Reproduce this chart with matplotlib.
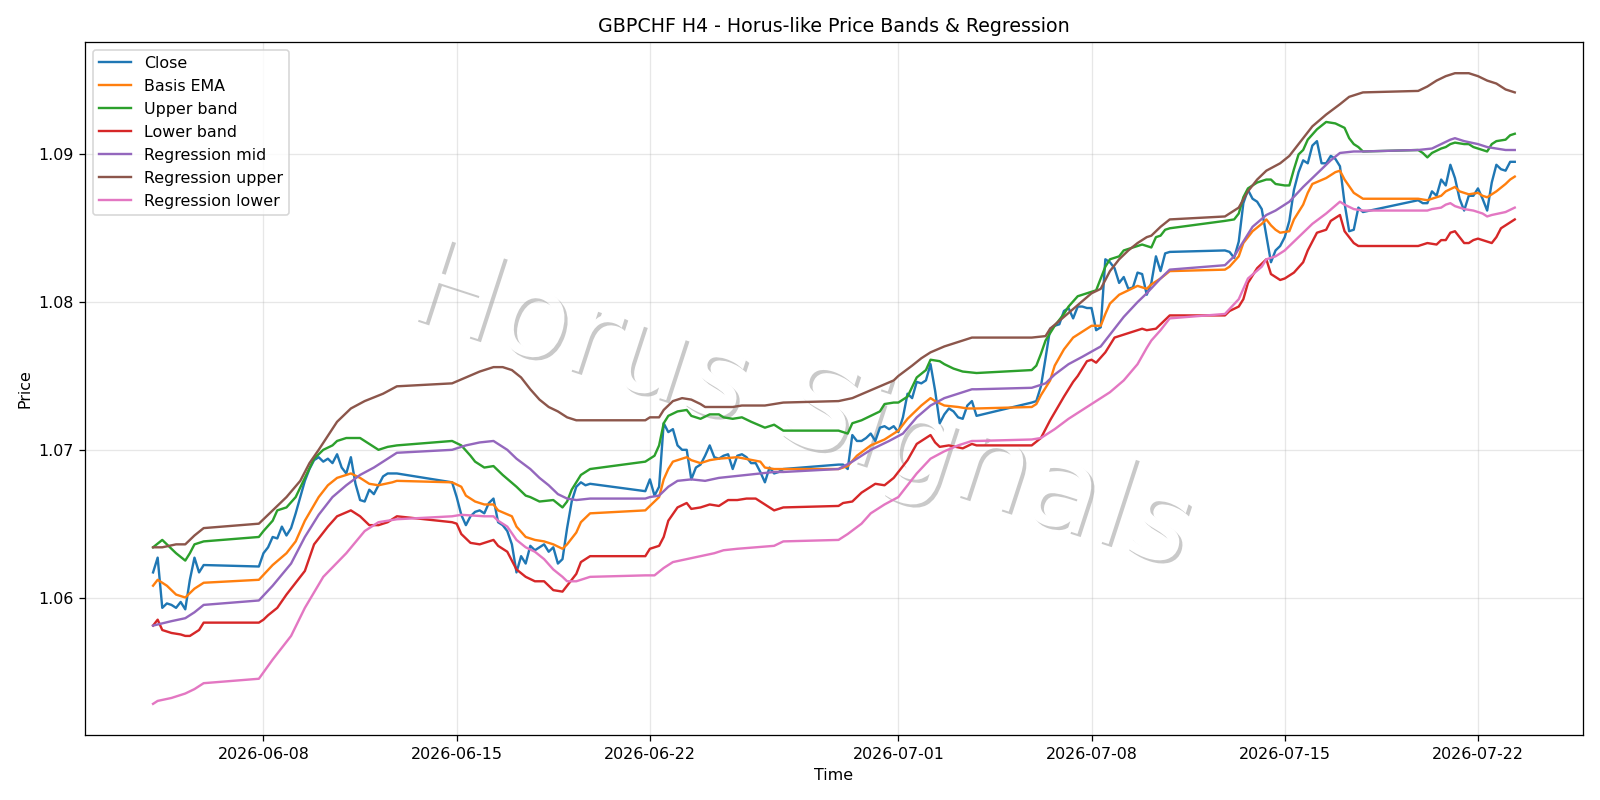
import pandas as pd
import matplotlib.pyplot as plt
import matplotlib.patheffects as pe

# H4 bars; weekends are skipped (Fri 20:00 -> Sun 20:00)
close_t = [
    "06-04 00", "06-04 04", "06-04 08", "06-04 12", "06-04 16", "06-04 20",
    "06-05 00", "06-05 04", "06-05 08", "06-05 12", "06-05 16", "06-05 20",
    "06-07 20", "06-08 00", "06-08 04", "06-08 08", "06-08 12", "06-08 16", "06-08 20",
    "06-09 00", "06-09 04", "06-09 08", "06-09 12", "06-09 16", "06-09 20",
    "06-10 00", "06-10 04", "06-10 08", "06-10 12", "06-10 16", "06-10 20",
    "06-11 00", "06-11 04", "06-11 08", "06-11 12", "06-11 16", "06-11 20",
    "06-12 00", "06-12 04", "06-12 08", "06-12 12", "06-12 16", "06-12 20",
    "06-14 20", "06-15 00", "06-15 04", "06-15 08", "06-15 12", "06-15 16", "06-15 20",
    "06-16 00", "06-16 04", "06-16 08", "06-16 12", "06-16 16", "06-16 20",
    "06-17 00", "06-17 04", "06-17 08", "06-17 12", "06-17 16", "06-17 20",
    "06-18 00", "06-18 04", "06-18 08", "06-18 12", "06-18 16", "06-18 20",
    "06-19 00", "06-19 04", "06-19 08", "06-19 12", "06-19 16", "06-19 20",
    "06-21 20", "06-22 00", "06-22 04", "06-22 08", "06-22 12", "06-22 16", "06-22 20",
    "06-23 00", "06-23 04", "06-23 08", "06-23 12", "06-23 16", "06-23 20",
    "06-24 00", "06-24 04", "06-24 08", "06-24 12", "06-24 16", "06-24 20",
    "06-25 00", "06-25 04", "06-25 08", "06-25 12", "06-25 16", "06-25 20",
    "06-26 00", "06-26 04", "06-26 08", "06-26 12", "06-26 16", "06-26 20",
    "06-28 20", "06-29 00", "06-29 04", "06-29 08", "06-29 12", "06-29 16", "06-29 20",
    "06-30 00", "06-30 04", "06-30 08", "06-30 12", "06-30 16", "06-30 20",
    "07-01 00", "07-01 04", "07-01 08", "07-01 12", "07-01 16", "07-01 20",
    "07-02 00", "07-02 04", "07-02 08", "07-02 12", "07-02 16", "07-02 20",
    "07-03 00", "07-03 04", "07-03 08", "07-03 12", "07-03 16", "07-03 20",
    "07-05 20", "07-06 00", "07-06 04", "07-06 08", "07-06 12", "07-06 16", "07-06 20",
    "07-07 00", "07-07 04", "07-07 08", "07-07 12", "07-07 16", "07-07 20",
    "07-08 00", "07-08 04", "07-08 08", "07-08 12", "07-08 16", "07-08 20",
    "07-09 00", "07-09 04", "07-09 08", "07-09 12", "07-09 16", "07-09 20",
    "07-10 00", "07-10 04", "07-10 08", "07-10 12", "07-10 16", "07-10 20",
    "07-12 20", "07-13 00", "07-13 04", "07-13 08", "07-13 12", "07-13 16", "07-13 20",
    "07-14 00", "07-14 04", "07-14 08", "07-14 12", "07-14 16", "07-14 20",
    "07-15 00", "07-15 04", "07-15 08", "07-15 12", "07-15 16", "07-15 20",
    "07-16 00", "07-16 04", "07-16 08", "07-16 12", "07-16 16", "07-16 20",
    "07-17 00", "07-17 04", "07-17 08", "07-17 12", "07-17 16", "07-17 20",
    "07-19 20", "07-20 00", "07-20 04", "07-20 08", "07-20 12", "07-20 16", "07-20 20",
    "07-21 00", "07-21 04", "07-21 08", "07-21 12", "07-21 16", "07-21 20",
    "07-22 00", "07-22 04", "07-22 08", "07-22 12", "07-22 16", "07-22 20",
    "07-23 00", "07-23 04", "07-23 08",
]
close_v = [
    1.0617, 1.0627, 1.0593, 1.0596, 1.0595, 1.0593,
    1.0597, 1.0592, 1.0612, 1.0627, 1.0617, 1.0622,
    1.0621, 1.0630, 1.0634, 1.0641, 1.0640, 1.0648, 1.0642,
    1.0647, 1.0657, 1.0668, 1.0679, 1.0687, 1.0693,
    1.0695, 1.0692, 1.0694, 1.0691, 1.0697, 1.0688,
    1.0684, 1.0695, 1.0677, 1.0666, 1.0665, 1.0673,
    1.0670, 1.0676, 1.0682, 1.0684, 1.0684, 1.0684,
    1.0678, 1.0668, 1.0656, 1.0649, 1.0655, 1.0658, 1.0659,
    1.0657, 1.0664, 1.0667, 1.0651, 1.0649, 1.0645,
    1.0636, 1.0617, 1.0628, 1.0623, 1.0635, 1.0632,
    1.0634, 1.0636, 1.0631, 1.0634, 1.0623, 1.0626,
    1.0647, 1.0665, 1.0675, 1.0678, 1.0676, 1.0677,
    1.0672, 1.0680, 1.0669, 1.0675, 1.0718, 1.0712, 1.0714,
    1.0703, 1.0700, 1.0700, 1.0680, 1.0688, 1.0690,
    1.0696, 1.0703, 1.0695, 1.0694, 1.0696, 1.0697,
    1.0687, 1.0696, 1.0697, 1.0695, 1.0691, 1.0691,
    1.0685, 1.0678, 1.0688, 1.0684, 1.0685, 1.0687,
    1.0690, 1.0690, 1.0687, 1.0710, 1.0706, 1.0706, 1.0708,
    1.0711, 1.0706, 1.0715, 1.0716, 1.0714, 1.0716,
    1.0712, 1.0722, 1.0738, 1.0735, 1.0746, 1.0745,
    1.0747, 1.0758, 1.0740, 1.0718, 1.0724, 1.0728,
    1.0726, 1.0722, 1.0721, 1.0730, 1.0733, 1.0723,
    1.0732, 1.0733, 1.0743, 1.0762, 1.0782, 1.0784, 1.0785,
    1.0794, 1.0796, 1.0789, 1.0797, 1.0797, 1.0796,
    1.0796, 1.0781, 1.0783, 1.0829, 1.0827, 1.0823,
    1.0813, 1.0817, 1.0809, 1.0810, 1.0820, 1.0819,
    1.0805, 1.0813, 1.0831, 1.0821, 1.0833, 1.0834,
    1.0835, 1.0834, 1.0830, 1.0841, 1.0867, 1.0876, 1.0870,
    1.0868, 1.0863, 1.0845, 1.0827, 1.0835, 1.0838,
    1.0844, 1.0855, 1.0876, 1.0888, 1.0896, 1.0894,
    1.0906, 1.0909, 1.0894, 1.0894, 1.0899, 1.0897,
    1.0892, 1.0867, 1.0848, 1.0849, 1.0864, 1.0861,
    1.0869, 1.0867, 1.0867, 1.0875, 1.0872, 1.0883, 1.0879,
    1.0893, 1.0884, 1.0870, 1.0862, 1.0872, 1.0872,
    1.0877, 1.0870, 1.0862, 1.0881, 1.0893, 1.0890,
    1.0889, 1.0895, 1.0895,
]

ema_t = [
    "06-04 00", "06-04 04", "06-04 12", "06-04 20", "06-05 04", "06-05 12", "06-05 20",
    "06-07 20", "06-08 08", "06-08 20", "06-09 04", "06-09 12", "06-10 00", "06-10 08",
    "06-10 16", "06-11 04", "06-11 12", "06-11 20", "06-12 04", "06-12 16", "06-12 20",
    "06-14 20", "06-15 04", "06-15 08", "06-15 16", "06-16 00", "06-16 08", "06-16 12",
    "06-17 00", "06-17 04", "06-17 12", "06-17 20", "06-18 04", "06-18 12", "06-18 20",
    "06-19 00", "06-19 08", "06-19 12", "06-19 20",
    "06-21 20", "06-22 00", "06-22 04", "06-22 08", "06-22 12", "06-22 16", "06-22 20",
    "06-23 08", "06-23 12", "06-23 20", "06-24 04", "06-24 12", "06-25 04", "06-26 00",
    "06-26 04", "06-26 12", "06-26 20",
    "06-28 20", "06-29 04", "06-29 12", "06-30 00", "06-30 12", "07-01 00", "07-01 08",
    "07-01 20", "07-02 04", "07-02 08", "07-02 16", "07-03 04", "07-03 12", "07-03 20",
    "07-05 20", "07-06 00", "07-06 04", "07-06 12", "07-06 16", "07-07 00", "07-07 08",
    "07-07 16", "07-08 00", "07-08 08", "07-08 12", "07-08 16", "07-09 00", "07-09 08",
    "07-09 16", "07-09 20", "07-10 00", "07-10 04", "07-10 12", "07-10 20",
    "07-12 20", "07-13 00", "07-13 08", "07-13 12", "07-13 20", "07-14 04", "07-14 08",
    "07-14 12", "07-14 16", "07-14 20", "07-15 04", "07-15 08", "07-15 16", "07-15 20",
    "07-16 00", "07-16 12", "07-16 20", "07-17 00", "07-17 04", "07-17 12", "07-17 20",
    "07-19 20", "07-20 04", "07-20 08", "07-20 16", "07-20 20", "07-21 04", "07-21 08",
    "07-21 16", "07-22 00", "07-22 04", "07-22 08", "07-22 16", "07-23 00", "07-23 04",
    "07-23 08",
]
ema_v = [
    1.0608, 1.0612, 1.0608, 1.0602, 1.0600, 1.0606, 1.0610,
    1.0612, 1.0622, 1.0630, 1.0638, 1.0652, 1.0668, 1.0676,
    1.0681, 1.0684, 1.0681, 1.0677, 1.0676, 1.0678, 1.0679,
    1.0678, 1.0675, 1.0669, 1.0665, 1.0663, 1.0663, 1.0659,
    1.0655, 1.0648, 1.0641, 1.0639, 1.0638, 1.0636, 1.0633,
    1.0636, 1.0644, 1.0651, 1.0657,
    1.0659, 1.0662, 1.0665, 1.0668, 1.0680, 1.0687, 1.0692,
    1.0695, 1.0693, 1.0691, 1.0693, 1.0694, 1.0695, 1.0692,
    1.0688, 1.0687, 1.0687,
    1.0687, 1.0689, 1.0696, 1.0703, 1.0707, 1.0713, 1.0721,
    1.0730, 1.0735, 1.0733, 1.0730, 1.0729, 1.0728, 1.0728,
    1.0729, 1.0731, 1.0737, 1.0747, 1.0757, 1.0768, 1.0776,
    1.0780, 1.0784, 1.0784, 1.0792, 1.0799, 1.0805, 1.0808,
    1.0811, 1.0810, 1.0809, 1.0812, 1.0816, 1.0821,
    1.0822, 1.0824, 1.0831, 1.0840, 1.0848, 1.0853, 1.0856,
    1.0852, 1.0849, 1.0847, 1.0848, 1.0856, 1.0866, 1.0874,
    1.0880, 1.0884, 1.0888, 1.0889, 1.0883, 1.0874, 1.0870,
    1.0870, 1.0869, 1.0870, 1.0872, 1.0875, 1.0878, 1.0875,
    1.0873, 1.0874, 1.0872, 1.0871, 1.0875, 1.0880, 1.0883,
    1.0885,
]

upper_t = [
    "06-04 00", "06-04 08", "06-04 12", "06-04 20", "06-05 04", "06-05 08", "06-05 12",
    "06-05 20", "06-07 20", "06-08 00", "06-08 08", "06-08 12", "06-08 20", "06-09 04",
    "06-09 12", "06-09 20", "06-10 04", "06-10 12", "06-10 16", "06-11 00", "06-11 12",
    "06-11 20", "06-12 04", "06-12 12", "06-12 20",
    "06-14 20", "06-15 04", "06-15 12", "06-15 16", "06-16 00", "06-16 08", "06-16 16",
    "06-17 04", "06-17 12", "06-17 16", "06-18 00", "06-18 12", "06-18 20", "06-19 00",
    "06-19 04", "06-19 12", "06-19 20",
    "06-21 20", "06-22 00", "06-22 04", "06-22 08", "06-22 12", "06-22 16", "06-23 00",
    "06-23 08", "06-23 12", "06-23 20", "06-24 04", "06-24 12", "06-24 16", "06-25 00",
    "06-25 08", "06-25 16", "06-26 04", "06-26 12", "06-26 20",
    "06-28 20", "06-29 04", "06-29 08", "06-29 16", "06-30 00", "06-30 08", "06-30 12",
    "06-30 20", "07-01 00", "07-01 08", "07-01 16", "07-02 00", "07-02 04", "07-02 12",
    "07-02 16", "07-03 00", "07-03 08", "07-03 20",
    "07-05 20", "07-06 00", "07-06 04", "07-06 08", "07-06 16", "07-07 00", "07-07 04",
    "07-07 12", "07-07 20", "07-08 04", "07-08 12", "07-08 16", "07-09 00", "07-09 04",
    "07-09 12", "07-09 20", "07-10 00", "07-10 04", "07-10 08", "07-10 12", "07-10 16",
    "07-10 20",
    "07-12 20", "07-13 04", "07-13 08", "07-13 12", "07-13 16", "07-14 00", "07-14 08",
    "07-14 12", "07-14 16", "07-15 00", "07-15 04", "07-15 08", "07-15 12", "07-15 16",
    "07-15 20", "07-16 04", "07-16 12", "07-16 20", "07-17 04", "07-17 08", "07-17 12",
    "07-17 16", "07-17 20",
    "07-19 20", "07-20 00", "07-20 04", "07-20 08", "07-20 16", "07-20 20", "07-21 00",
    "07-21 04", "07-21 12", "07-21 16", "07-21 20", "07-22 00", "07-22 08", "07-22 12",
    "07-22 16", "07-23 00", "07-23 04", "07-23 08",
]
upper_v = [
    1.0634, 1.0639, 1.0636, 1.0630, 1.0625, 1.0630, 1.0636,
    1.0638, 1.0641, 1.0645, 1.0652, 1.0659, 1.0661, 1.0668,
    1.0681, 1.0694, 1.0700, 1.0703, 1.0706, 1.0708, 1.0708,
    1.0704, 1.0700, 1.0702, 1.0703,
    1.0706, 1.0703, 1.0696, 1.0692, 1.0688, 1.0689, 1.0683,
    1.0675, 1.0669, 1.0668, 1.0665, 1.0666, 1.0661, 1.0665,
    1.0673, 1.0683, 1.0687,
    1.0692, 1.0694, 1.0696, 1.0703, 1.0718, 1.0723, 1.0726,
    1.0727, 1.0723, 1.0721, 1.0724, 1.0724, 1.0722, 1.0721,
    1.0722, 1.0719, 1.0715, 1.0717, 1.0713,
    1.0713, 1.0711, 1.0718, 1.0720, 1.0723, 1.0726, 1.0731,
    1.0732, 1.0732, 1.0736, 1.0749, 1.0754, 1.0761, 1.0760,
    1.0758, 1.0755, 1.0753, 1.0752,
    1.0754, 1.0757, 1.0765, 1.0774, 1.0784, 1.0792, 1.0797,
    1.0804, 1.0806, 1.0808, 1.0824, 1.0829, 1.0831, 1.0835,
    1.0837, 1.0839, 1.0838, 1.0837, 1.0844, 1.0845, 1.0849,
    1.0850,
    1.0855, 1.0856, 1.0860, 1.0871, 1.0877, 1.0881, 1.0883,
    1.0883, 1.0880, 1.0879, 1.0879, 1.0890, 1.0900, 1.0903,
    1.0910, 1.0917, 1.0922, 1.0921, 1.0918, 1.0911, 1.0907,
    1.0905, 1.0902,
    1.0903, 1.0901, 1.0898, 1.0901, 1.0904, 1.0905, 1.0907,
    1.0908, 1.0907, 1.0907, 1.0905, 1.0904, 1.0902, 1.0907,
    1.0909, 1.0910, 1.0913, 1.0914,
]

lower_t = [
    "06-04 00", "06-04 04", "06-04 08", "06-04 16", "06-05 00", "06-05 04", "06-05 08",
    "06-05 16", "06-05 20", "06-07 20", "06-08 00", "06-08 04", "06-08 12", "06-08 20",
    "06-09 04", "06-09 12", "06-09 20", "06-10 08", "06-10 16", "06-11 04", "06-11 12",
    "06-11 20", "06-12 04", "06-12 12", "06-12 20",
    "06-14 20", "06-15 00", "06-15 04", "06-15 12", "06-15 20", "06-16 08", "06-16 12",
    "06-16 16", "06-16 20", "06-17 04", "06-17 12", "06-17 20", "06-18 04", "06-18 08",
    "06-18 12", "06-18 20", "06-19 00", "06-19 08", "06-19 12", "06-19 20",
    "06-21 20", "06-22 00", "06-22 08", "06-22 12", "06-22 16", "06-23 00", "06-23 08",
    "06-23 12", "06-23 20", "06-24 04", "06-24 12", "06-24 20", "06-25 04", "06-25 12",
    "06-25 20", "06-26 04", "06-26 12", "06-26 20",
    "06-28 20", "06-29 00", "06-29 08", "06-29 16", "06-30 04", "06-30 12", "06-30 20",
    "07-01 00", "07-01 08", "07-01 16", "07-02 04", "07-02 08", "07-02 12", "07-02 20",
    "07-03 08", "07-03 16", "07-03 20",
    "07-05 20", "07-06 04", "07-06 12", "07-07 00", "07-07 08", "07-07 12", "07-07 20",
    "07-08 00", "07-08 04", "07-08 12", "07-08 20", "07-09 04", "07-09 12", "07-09 20",
    "07-10 00", "07-10 08", "07-10 12", "07-10 20",
    "07-12 20", "07-13 00", "07-13 08", "07-13 12", "07-13 16", "07-14 00", "07-14 08",
    "07-14 12", "07-14 20", "07-15 00", "07-15 08", "07-15 16", "07-15 20", "07-16 04",
    "07-16 12", "07-16 16", "07-17 00", "07-17 04", "07-17 12", "07-17 16", "07-17 20",
    "07-19 20", "07-20 00", "07-20 04", "07-20 12", "07-20 16", "07-20 20", "07-21 00",
    "07-21 04", "07-21 08", "07-21 12", "07-21 16", "07-21 20", "07-22 00", "07-22 04",
    "07-22 12", "07-22 16", "07-22 20", "07-23 00", "07-23 08",
]
lower_v = [
    1.0581, 1.0585, 1.0578, 1.0576, 1.0575, 1.0574, 1.0574,
    1.0578, 1.0583, 1.0583, 1.0585, 1.0588, 1.0593, 1.0602,
    1.0610, 1.0618, 1.0636, 1.0648, 1.0655, 1.0659, 1.0655,
    1.0649, 1.0649, 1.0651, 1.0655,
    1.0651, 1.0650, 1.0643, 1.0637, 1.0636, 1.0639, 1.0635,
    1.0633, 1.0631, 1.0619, 1.0614, 1.0611, 1.0611, 1.0608,
    1.0605, 1.0604, 1.0608, 1.0616, 1.0624, 1.0628,
    1.0628, 1.0633, 1.0635, 1.0641, 1.0652, 1.0661, 1.0664,
    1.0660, 1.0661, 1.0663, 1.0662, 1.0666, 1.0666, 1.0667,
    1.0667, 1.0663, 1.0659, 1.0661,
    1.0662, 1.0664, 1.0665, 1.0671, 1.0677, 1.0676, 1.0681,
    1.0685, 1.0693, 1.0704, 1.0710, 1.0705, 1.0702, 1.0703,
    1.0701, 1.0704, 1.0703,
    1.0703, 1.0708, 1.0720, 1.0736, 1.0746, 1.0750, 1.0760,
    1.0761, 1.0759, 1.0766, 1.0776, 1.0778, 1.0780, 1.0782,
    1.0781, 1.0782, 1.0785, 1.0791,
    1.0791, 1.0794, 1.0797, 1.0802, 1.0813, 1.0823, 1.0829,
    1.0819, 1.0815, 1.0816, 1.0820, 1.0827, 1.0835, 1.0847,
    1.0849, 1.0855, 1.0859, 1.0848, 1.0840, 1.0838, 1.0838,
    1.0838, 1.0839, 1.0840, 1.0839, 1.0842, 1.0842, 1.0847,
    1.0848, 1.0844, 1.0840, 1.0840, 1.0842, 1.0843, 1.0842,
    1.0840, 1.0844, 1.0850, 1.0852, 1.0856,
]

reg_mid_t = [
    "06-04 00", "06-04 16", "06-05 04", "06-05 12", "06-05 20", "06-07 20", "06-08 08",
    "06-09 00", "06-09 12", "06-10 00", "06-10 12", "06-11 00", "06-11 12", "06-12 00",
    "06-12 12", "06-12 20",
    "06-14 20", "06-15 08", "06-15 20", "06-16 08", "06-16 12", "06-16 20", "06-17 04",
    "06-17 16", "06-18 00", "06-18 08", "06-18 16", "06-19 00", "06-19 08", "06-19 20",
    "06-21 20", "06-22 00", "06-22 08", "06-22 16", "06-23 00", "06-23 12", "06-24 00",
    "06-24 12", "06-25 12", "06-26 00", "06-26 12", "06-26 20",
    "06-28 20", "06-29 08", "06-30 00", "06-30 16", "07-01 04", "07-01 16", "07-02 04",
    "07-02 16", "07-03 04", "07-03 16", "07-03 20",
    "07-05 20", "07-06 08", "07-06 16", "07-07 04", "07-07 16", "07-08 08", "07-08 16",
    "07-09 04", "07-09 16", "07-10 00", "07-10 12", "07-10 20",
    "07-12 20", "07-13 04", "07-13 12", "07-13 20", "07-14 08", "07-14 16", "07-15 04",
    "07-15 16", "07-16 04", "07-16 16", "07-17 00", "07-17 12", "07-17 20",
    "07-19 20", "07-20 08", "07-20 16", "07-21 00", "07-21 04", "07-21 12", "07-22 00",
    "07-22 08", "07-22 16", "07-23 00", "07-23 08",
]
reg_mid_v = [
    1.0581, 1.0584, 1.0586, 1.0590, 1.0595, 1.0598, 1.0608,
    1.0623, 1.0641, 1.0656, 1.0668, 1.0676, 1.0683, 1.0688,
    1.0694, 1.0698,
    1.0700, 1.0703, 1.0705, 1.0706, 1.0704, 1.0700, 1.0694,
    1.0687, 1.0681, 1.0676, 1.0670, 1.0667, 1.0666, 1.0667,
    1.0667, 1.0668, 1.0669, 1.0675, 1.0679, 1.0680, 1.0679,
    1.0681, 1.0683, 1.0684, 1.0685, 1.0685,
    1.0687, 1.0692, 1.0700, 1.0706, 1.0711, 1.0722, 1.0730,
    1.0735, 1.0738, 1.0741, 1.0741,
    1.0742, 1.0745, 1.0751, 1.0758, 1.0763, 1.0770, 1.0778,
    1.0790, 1.0800, 1.0806, 1.0816, 1.0822,
    1.0825, 1.0831, 1.0841, 1.0851, 1.0859, 1.0862, 1.0868,
    1.0878, 1.0887, 1.0896, 1.0901, 1.0902, 1.0902,
    1.0903, 1.0904, 1.0907, 1.0910, 1.0911, 1.0909, 1.0907,
    1.0905, 1.0904, 1.0903, 1.0903,
]

reg_up_t = [
    "06-04 00", "06-04 08", "06-04 20", "06-05 04", "06-05 12", "06-05 20", "06-07 20",
    "06-08 08", "06-08 20", "06-09 08", "06-09 16", "06-10 00", "06-10 16", "06-11 04",
    "06-11 16", "06-12 08", "06-12 20",
    "06-14 20", "06-15 08", "06-15 20", "06-16 08", "06-16 16", "06-17 00", "06-17 08",
    "06-17 16", "06-18 00", "06-18 08", "06-18 16", "06-19 00", "06-19 08", "06-19 20",
    "06-21 20", "06-22 00", "06-22 08", "06-22 12", "06-22 20", "06-23 04", "06-23 12",
    "06-23 20", "06-24 00", "06-25 00", "06-25 08", "06-26 04", "06-26 20",
    "06-28 20", "06-29 08", "06-29 20", "06-30 08", "06-30 20", "07-01 00", "07-01 12",
    "07-01 20", "07-02 04", "07-02 16", "07-03 04", "07-03 16", "07-03 20",
    "07-05 20", "07-06 08", "07-06 12", "07-07 00", "07-07 12", "07-08 00", "07-08 08",
    "07-08 16", "07-09 00", "07-09 08", "07-09 16", "07-10 00", "07-10 04", "07-10 12",
    "07-10 20",
    "07-12 20", "07-13 08", "07-13 16", "07-14 00", "07-14 08", "07-14 20", "07-15 04",
    "07-15 12", "07-16 00", "07-16 12", "07-17 00", "07-17 08", "07-17 20",
    "07-19 20", "07-20 04", "07-20 12", "07-20 20", "07-21 04", "07-21 16", "07-22 00",
    "07-22 08", "07-22 16", "07-23 00", "07-23 08",
]
reg_up_v = [
    1.0634, 1.0634, 1.0636, 1.0636, 1.0642, 1.0647, 1.0650,
    1.0659, 1.0668, 1.0679, 1.0691, 1.0700, 1.0719, 1.0728,
    1.0733, 1.0738, 1.0743,
    1.0745, 1.0749, 1.0753, 1.0756, 1.0756, 1.0754, 1.0749,
    1.0741, 1.0734, 1.0729, 1.0726, 1.0722, 1.0720, 1.0720,
    1.0720, 1.0722, 1.0722, 1.0727, 1.0733, 1.0735, 1.0734,
    1.0731, 1.0729, 1.0729, 1.0730, 1.0730, 1.0732,
    1.0733, 1.0735, 1.0739, 1.0743, 1.0747, 1.0750, 1.0757,
    1.0762, 1.0766, 1.0770, 1.0773, 1.0776, 1.0776,
    1.0776, 1.0777, 1.0782, 1.0790, 1.0798, 1.0806, 1.0809,
    1.0821, 1.0829, 1.0835, 1.0840, 1.0844, 1.0845, 1.0851,
    1.0856,
    1.0858, 1.0864, 1.0875, 1.0883, 1.0889, 1.0894, 1.0899,
    1.0907, 1.0919, 1.0927, 1.0934, 1.0939, 1.0942,
    1.0943, 1.0946, 1.0950, 1.0953, 1.0955, 1.0955, 1.0953,
    1.0950, 1.0948, 1.0944, 1.0942,
]

reg_lo_t = [
    "06-04 00", "06-04 04", "06-04 16", "06-05 04", "06-05 12", "06-05 20", "06-07 20",
    "06-08 08", "06-09 00", "06-09 12", "06-10 04", "06-11 00", "06-11 16", "06-12 04",
    "06-12 20",
    "06-14 20", "06-15 04", "06-16 00", "06-16 08", "06-16 12", "06-16 20", "06-17 04",
    "06-17 12", "06-17 20", "06-18 04", "06-18 12", "06-18 20", "06-19 00", "06-19 08",
    "06-19 20",
    "06-21 20", "06-22 04", "06-22 12", "06-22 20", "06-23 08", "06-23 20", "06-24 08",
    "06-24 16", "06-25 04", "06-25 20", "06-26 12", "06-26 20",
    "06-28 20", "06-29 04", "06-29 16", "06-30 00", "06-30 12", "07-01 00", "07-01 04",
    "07-01 16", "07-02 04", "07-02 16", "07-03 04", "07-03 16", "07-03 20",
    "07-05 20", "07-06 04", "07-06 16", "07-07 04", "07-07 16", "07-08 04", "07-08 16",
    "07-09 04", "07-09 16", "07-10 00", "07-10 04", "07-10 12", "07-10 20",
    "07-12 20", "07-13 08", "07-13 16", "07-14 04", "07-14 08", "07-14 16", "07-15 00",
    "07-15 12", "07-16 00", "07-16 12", "07-17 00", "07-17 04", "07-17 12", "07-17 20",
    "07-19 20", "07-20 04", "07-20 08", "07-20 16", "07-20 20", "07-21 00", "07-21 04",
    "07-21 12", "07-21 20", "07-22 04", "07-22 08", "07-22 12", "07-23 00", "07-23 08",
]
reg_lo_v = [
    1.0528, 1.0530, 1.0532, 1.0535, 1.0538, 1.0542, 1.0545,
    1.0558, 1.0574, 1.0593, 1.0614, 1.0630, 1.0645, 1.0651,
    1.0653,
    1.0655, 1.0656, 1.0655, 1.0655, 1.0652, 1.0648, 1.0639,
    1.0634, 1.0631, 1.0626, 1.0619, 1.0614, 1.0611, 1.0611,
    1.0614,
    1.0615, 1.0615, 1.0620, 1.0624, 1.0626, 1.0628, 1.0630,
    1.0632, 1.0633, 1.0634, 1.0635, 1.0638,
    1.0639, 1.0643, 1.0650, 1.0657, 1.0663, 1.0668, 1.0672,
    1.0684, 1.0694, 1.0699, 1.0703, 1.0706, 1.0706,
    1.0707, 1.0708, 1.0714, 1.0721, 1.0727, 1.0733, 1.0739,
    1.0747, 1.0758, 1.0769, 1.0774, 1.0781, 1.0789,
    1.0792, 1.0802, 1.0816, 1.0824, 1.0829, 1.0831, 1.0835,
    1.0844, 1.0853, 1.0860, 1.0868, 1.0866, 1.0863, 1.0862,
    1.0862, 1.0862, 1.0863, 1.0864, 1.0866, 1.0867, 1.0865,
    1.0863, 1.0862, 1.0860, 1.0858, 1.0859, 1.0861, 1.0864,
]


def to_time(labels):
    return pd.to_datetime(["2026-" + s for s in labels], format="%Y-%m-%d %H")


DPI = 1600 / 14
fig, ax = plt.subplots(figsize=(14, 7), dpi=DPI)

ax.plot(to_time(close_t), close_v, label="Close")
ax.plot(to_time(ema_t), ema_v, label="Basis EMA")
ax.plot(to_time(upper_t), upper_v, label="Upper band")
ax.plot(to_time(lower_t), lower_v, label="Lower band")
ax.plot(to_time(reg_mid_t), reg_mid_v, label="Regression mid")
ax.plot(to_time(reg_up_t), reg_up_v, label="Regression upper")
ax.plot(to_time(reg_lo_t), reg_lo_v, label="Regression lower")

# watermark
ax.text(
    0.478, 0.47, "Horus Signals",
    transform=ax.transAxes,
    fontsize=75,
    color="white",
    ha="center",
    va="center",
    rotation=-18,
    zorder=1,
    path_effects=[pe.withSimplePatchShadow()],
)

ax.set_title("GBPCHF H4 - Horus-like Price Bands & Regression")
ax.set_xlabel("Time")
ax.set_ylabel("Price")
ax.legend(loc="upper left")
ax.grid(True, alpha=0.3)
fig.tight_layout()
fig.savefig("out.png", dpi=DPI)
